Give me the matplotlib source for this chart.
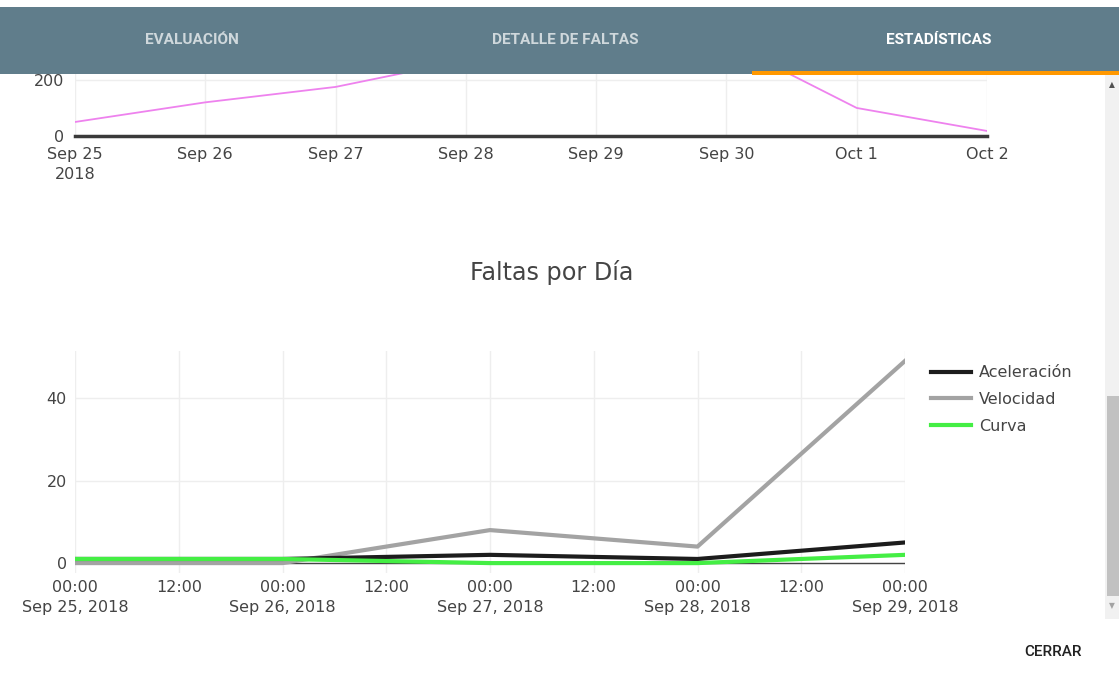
import matplotlib.pyplot as plt
import matplotlib.dates as mdates
import numpy as np
from matplotlib.patches import Rectangle

# top chart (partly hidden under the tab bar)
top_dates = np.array(['2018-09-25', '2018-09-26', '2018-09-27', '2018-09-28',
                      '2018-09-29', '2018-09-30', '2018-10-01', '2018-10-02'], dtype='datetime64[D]')
top_vals = [50, 120, 175, 270, 300, 335, 100, 18]
top_labels = ['Sep 25\n2018', 'Sep 26', 'Sep 27', 'Sep 28', 'Sep 29', 'Sep 30', 'Oct 1', 'Oct 2']

# bottom chart: Faltas por Día
dias = np.array(['2018-09-25', '2018-09-26', '2018-09-27', '2018-09-28', '2018-09-29'], dtype='datetime64[D]')
aceleracion = [1, 1, 2, 1, 5]
velocidad = [0, 0, 8, 4, 49]
curva = [1, 1, 0, 0, 2]

tabs = ['EVALUACIÓN', 'DETALLE DE FALTAS', 'ESTADÍSTICAS']

W, H = 1119, 686
fig = plt.figure(figsize=(W / 100, H / 100), dpi=100)
plt.rcParams['font.family'] = 'DejaVu Sans'
txt = '#444444'
grid = '#eeeeee'

def box(l, t, r, b):
    return [l / W, 1 - b / H, (r - l) / W, (b - t) / H]

# ---- top chart
ax1 = fig.add_axes(box(75, 7, 987, 136))
ax1.plot(top_dates.astype('datetime64[ns]'), top_vals, color='#ee82ee', lw=1.3)
ax1.axhline(0, color='#3a3a3a', lw=2.5, clip_on=False)
ax1.set_xlim(top_dates[0], top_dates[-1])
ax1.set_ylim(0, 460)
ax1.set_yticks([0, 200, 400])
ax1.set_xticks(top_dates)
ax1.set_xticklabels(top_labels, linespacing=1.4)
ax1.grid(color=grid, lw=1)
for s in ax1.spines.values():
    s.set_visible(False)
ax1.tick_params(length=0, labelsize=11.5, labelcolor=txt, pad=8)
ax1.set_axisbelow(True)

# ---- bottom chart
ax2 = fig.add_axes(box(75, 351, 905, 573))
d = dias.astype('datetime64[ns]')
ax2.axhline(0, color='#444444', lw=1, zorder=1)
ax2.plot(d, aceleracion, color='#1c1c1c', lw=3, label='Aceleración', zorder=3)
ax2.plot(d, velocidad, color='#a3a3a3', lw=3, label='Velocidad', zorder=2)
ax2.plot(d, curva, color='#44ee44', lw=3, label='Curva', zorder=4)
ax2.set_xlim(d[0], d[-1])
ax2.set_ylim(-2.4, 51.4)
ax2.set_yticks([0, 20, 40])
ax2.xaxis.set_major_locator(mdates.HourLocator(byhour=[0, 12]))
ticks = ax2.get_xticks()
labs = []
for t in mdates.num2date(ticks):
    if t.hour == 0:
        labs.append(t.strftime('%H:%M') + '\n' + t.strftime('%b %d, %Y').replace(' 0', ' '))
    else:
        labs.append(t.strftime('%H:%M'))
ax2.set_xticks(ticks)
ax2.set_xticklabels(labs, linespacing=1.4)
ax2.grid(color=grid, lw=1)
for s in ax2.spines.values():
    s.set_visible(False)
ax2.tick_params(length=0, labelsize=11.5, labelcolor=txt)
ax2.tick_params(axis='x', pad=5)
ax2.tick_params(axis='y', pad=6)
ax2.set_axisbelow(True)
leg = ax2.legend(loc='upper left', bbox_to_anchor=(1.014, 1.0), frameon=False,
                 fontsize=11.5, handlelength=2.5, handletextpad=0.5, labelspacing=0.73)
for t in leg.get_texts():
    t.set_color(txt)
fig.text(552 / W, 1 - 272 / H, 'Faltas por Día', ha='center', va='center', fontsize=17.2, color=txt)

# ---- page chrome (tab bar, scrollbar, button)
ov = fig.add_axes([0, 0, 1, 1], zorder=10)
ov.set_xlim(0, W)
ov.set_ylim(H, 0)
ov.axis('off')
ov.patch.set_alpha(0)
ov.add_patch(Rectangle((0, 7), W, 67, color='#607d8b', lw=0))
ov.add_patch(Rectangle((1105, 74), 14, 545, color='#f1f1f1', lw=0))
ov.add_patch(Rectangle((1107, 396), 12, 200, color='#c1c1c1', lw=0))
ov.add_patch(Rectangle((752, 71), W - 752, 3.5, color='#ff9800', lw=0))
for i, (name, x) in enumerate(zip(tabs, [192, 565, 939])):
    ov.text(x, 40, name, ha='center', va='center', fontsize=11.1, family='Roboto',
            fontweight='bold', color='white' if i == 2 else '#cfd8dc')
ov.text(1112, 85, '▲', ha='center', va='center', fontsize=5.5, color='#505050')
ov.text(1112, 606, '▼', ha='center', va='center', fontsize=5.5, color='#a3a3a3')
ov.text(1053, 652, 'CERRAR', ha='center', va='center', fontsize=11, family='Roboto',
        fontweight='medium', color='#212121')

fig.savefig('out.png', dpi=100)
